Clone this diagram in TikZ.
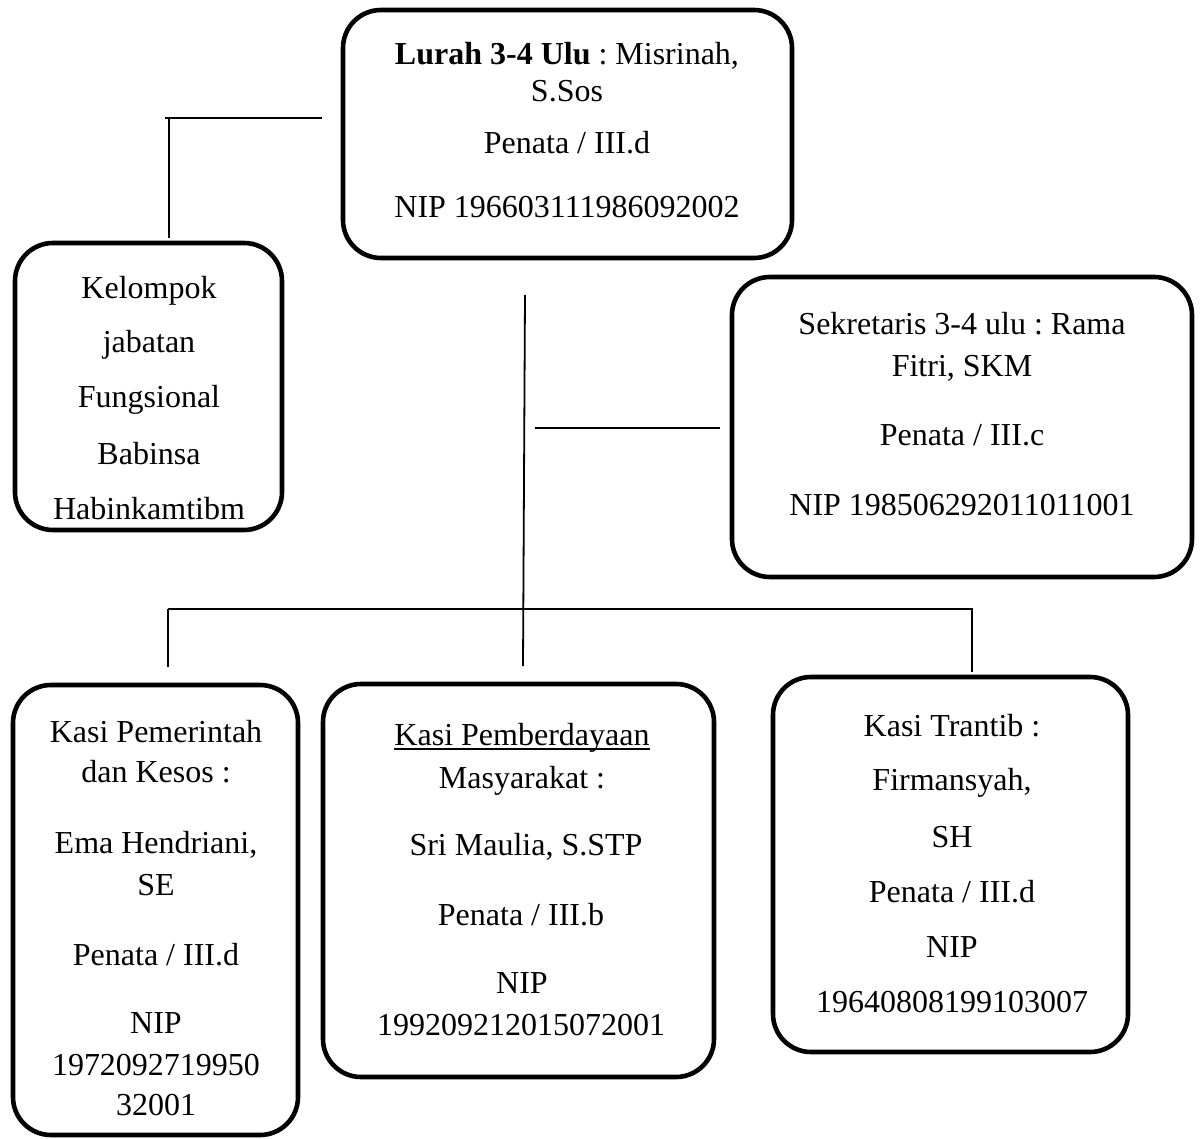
\documentclass[tikz,border=0pt]{standalone}
\usepackage{fontspec}
\setmainfont{Liberation Serif}
\usetikzlibrary{fit}
\frenchspacing
\begin{document}
\frenchspacing
\begin{tikzpicture}[x=0.5pt,y=-0.5pt,
  box/.style={draw=black, line width=2.3pt, rounded corners=19pt, inner sep=0pt},
  conn/.style={draw=black, line width=0.9pt},
  txt/.style={anchor=base, inner sep=0pt, font=\fontsize{16}{19}\selectfont\frenchspacing}]
\useasboundingbox (0,0) rectangle (1200,1139);
% boxes
\node[box, fit={(343,10) (792,258)}] (lurah) {};
\node[box, fit={(15,243) (282,530)}] (kjf) {};
\node[box, fit={(732,277) (1192,577)}] (sek) {};
\node[box, fit={(13,685) (298,1135)}] (kpem) {};
\node[box, fit={(323,684) (714,1077)}] (kpmd) {};
\node[box, fit={(773,677) (1128,1052)}] (ktr) {};
% texts: Lurah
\node[txt] (l1) at (567,65) {\textbf{Lurah 3-4 Ulu} : Misrinah,};
\node[txt] (l2) at (567,102) {S.Sos};
\node[txt] (l3) at (567,154) {Penata / III.d};
\node[txt] (l4) at (567,218) {NIP 196603111986092002};
% Kelompok
\node[txt] (k1) at (149,299) {Kelompok};
\node[txt] (k2) at (149,353) {jabatan};
\node[txt] (k3) at (149,408) {Fungsional};
\node[txt] (k4) at (149,464) {Babinsa};
\node[txt] (k5) at (149,519) {Habinkamtibm};
% Sekretaris
\node[txt] (s1) at (962,335) {Sekretaris 3-4 ulu : Rama};
\node[txt] (s2) at (962,377) {Fitri, SKM};
\node[txt] (s3) at (962,445) {Penata / III.c};
\node[txt] (s4) at (962,515) {NIP 198506292011011001};
% Kasi Pemerintah
\node[txt] (p1) at (156,742) {Kasi Pemerintah};
\node[txt] (p2) at (156,782) {dan Kesos :};
\node[txt] (p3) at (156,853) {Ema Hendriani,};
\node[txt] (p4) at (156,895) {SE};
\node[txt] (p5) at (156,965) {Penata / III.d};
\node[txt] (p6) at (156,1033) {NIP};
\node[txt] (p7) at (156,1075) {1972092719950};
\node[txt] (p8) at (156,1115) {32001};
% Kasi Pemberdayaan
\node[txt] (m1) at (522,745) {Kasi Pemberdayaan};
\draw[line width=0.75pt] ([yshift=-2pt]m1.base west) -- ([yshift=-2pt]m1.base east);
\node[txt] (m2) at (522,788) {Masyarakat :};
\node[txt] (m3) at (526,855) {Sri Maulia, S.STP};
\node[txt] (m4) at (521,925) {Penata / III.b};
\node[txt] (m5) at (522,993) {NIP};
\node[txt] (m6) at (521,1035) {199209212015072001};
% Kasi Trantib
\node[txt] (t1) at (952,736) {Kasi Trantib :};
\node[txt] (t2) at (952,790) {Firmansyah,};
\node[txt] (t3) at (952,847) {SH};
\node[txt] (t4) at (952,902) {Penata / III.d};
\node[txt] (t5) at (952,957) {NIP};
\node[txt] (t6) at (952,1012) {19640808199103007};
% connector points
\coordinate (a1) at (165,118);
\coordinate (a2) at (322,118);
\coordinate (a3) at (169,118);
\coordinate (a4) at (169,238);
\coordinate (v1) at (525,295);
\coordinate (v2) at (523,666);
\coordinate (h1) at (535,428);
\coordinate (h2) at (720,428);
\coordinate (b1) at (168,609);
\coordinate (b2) at (973,609);
\coordinate (b3) at (168,667);
\coordinate (b4) at (972,609);
\coordinate (b5) at (972,672);
% connectors
\draw[conn] (a1) -- (a2);
\draw[conn] (a3) -- (a4);
\draw[conn] (v1) -- (v2);
\draw[conn] (h1) -- (h2);
\draw[conn] (b1) -- (b2);
\draw[conn] (b1) -- (b3);
\draw[conn] (b4) -- (b5);
\end{tikzpicture}
\end{document}
